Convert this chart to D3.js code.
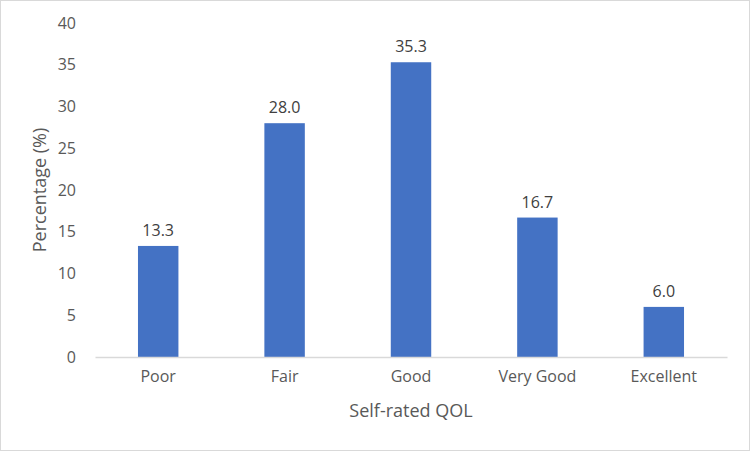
<!DOCTYPE html>
<html>
<head>
<meta charset="utf-8">
<script src="https://cdn.jsdelivr.net/npm/d3@7"></script>
<style>
  body { margin: 0; background: #fff; }
  svg { display: block; font-family: "Open Sans", "Noto Sans", sans-serif; }
</style>
</head>
<body>
<svg id="chart" width="750" height="451"></svg>
<script>
// chart data
const categories = ["Poor", "Fair", "Good", "Very Good", "Excellent"];
const percents = [13.3, 28.0, 35.3, 16.7, 6.0];
const yTicks = [0, 5, 10, 15, 20, 25, 30, 35, 40];

const width = 750, height = 451;
const margin = { top: 23, right: 23, bottom: 94, left: 95 };

const svg = d3.select("#chart");

// light outer border
svg.append("rect")
  .attr("x", 0.5).attr("y", 0.5)
  .attr("width", width - 1).attr("height", height - 1)
  .attr("fill", "#fff")
  .attr("stroke", "#d9d9d9");

const x = d3.scaleBand()
  .domain(categories)
  .range([margin.left, width - margin.right])
  .paddingInner(0.68)
  .paddingOuter(0.34);

const y = d3.scaleLinear()
  .domain([0, 40])
  .range([height - margin.bottom, margin.top]);

// y axis labels (no line)
const yAxis = svg.append("g")
  .attr("transform", `translate(${margin.left - 7},0)`)
  .call(d3.axisLeft(y).tickValues(yTicks).tickSize(0).tickPadding(12));
yAxis.select(".domain").remove();
yAxis.selectAll("text")
  .attr("font-size", 16)
  .attr("font-family", "Open Sans, sans-serif")
  .attr("fill", "#595959");

// bars
svg.append("g").selectAll("rect")
  .data(percents)
  .join("rect")
  .attr("x", (d, i) => x(categories[i]))
  .attr("y", d => y(d))
  .attr("width", x.bandwidth())
  .attr("height", d => y(0) - y(d))
  .attr("fill", "#4472c4");

// value labels
svg.append("g").selectAll("text")
  .data(percents)
  .join("text")
  .attr("x", (d, i) => x(categories[i]) + x.bandwidth() / 2)
  .attr("y", d => y(d) - 10)
  .attr("text-anchor", "middle")
  .attr("font-size", 16)
  .attr("fill", "#404040")
  .text(d => d.toFixed(1));

// x axis
const xAxis = svg.append("g")
  .attr("transform", `translate(0,${y(0)})`)
  .call(d3.axisBottom(x).tickSize(0).tickPadding(14));
xAxis.select(".domain")
  .attr("stroke", "#d9d9d9")
  .attr("stroke-width", 1.3);
xAxis.selectAll("text")
  .attr("font-size", 16)
  .attr("font-family", "Open Sans, sans-serif")
  .attr("fill", "#595959");

// axis titles
svg.append("text")
  .attr("x", (margin.left + width - margin.right) / 2)
  .attr("y", 417)
  .attr("text-anchor", "middle")
  .attr("font-size", 18)
  .attr("fill", "#595959")
  .text("Self-rated QOL");

svg.append("text")
  .attr("transform", `translate(46,${(margin.top + height - margin.bottom) / 2}) rotate(-90)`)
  .attr("text-anchor", "middle")
  .attr("font-size", 18)
  .attr("fill", "#595959")
  .text("Percentage (%)");
</script>
</body>
</html>
